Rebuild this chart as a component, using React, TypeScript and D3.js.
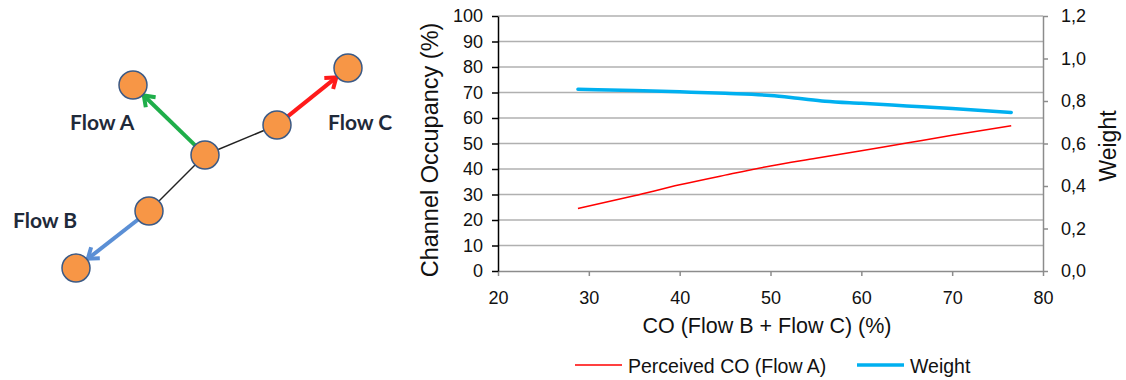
import React, { useEffect, useRef } from "react";
import * as d3 from "d3";

// perceived CO of flow A vs. combined CO of flows B + C
const coBC = [28.8, 35, 40, 45, 50, 55, 60, 65, 70, 76.5];
const perceivedCO = [24.5, 29.5, 33.8, 37.6, 41.2, 44.2, 47.2, 50.2, 53.2, 57];

const weightX = [28.8, 35, 40, 45, 50, 53, 56, 60, 65, 70, 76.5];
const weight = [0.855, 0.849, 0.843, 0.836, 0.826, 0.813, 0.799, 0.789, 0.777, 0.765, 0.746];

const leftTicks = [0, 10, 20, 30, 40, 50, 60, 70, 80, 90, 100];
const rightTicks = [0, 0.2, 0.4, 0.6, 0.8, 1.0, 1.2];
const xTicks = [20, 30, 40, 50, 60, 70, 80];

// little topology sketch next to the chart
const nodes = [
  { id: "a", x: 133, y: 85 },
  { id: "c", x: 348, y: 68 },
  { id: "r", x: 277, y: 125 },
  { id: "m", x: 205, y: 155 },
  { id: "l", x: 149, y: 211 },
  { id: "b", x: 76, y: 268 },
];
const links = [
  ["m", "r"],
  ["m", "l"],
];
const flows = [
  { name: "Flow A", from: "m", to: "a", color: "#1fae4a", lx: 70, ly: 130 },
  { name: "Flow B", from: "l", to: "b", color: "#5b8fd5", lx: 13, ly: 228 },
  { name: "Flow C", from: "r", to: "c", color: "#ff1a1a", lx: 328, ly: 130 },
];

const FONT = "'Liberation Sans', Arial, sans-serif";

const App = () => {
  const ref = useRef<SVGSVGElement>(null);

  useEffect(() => {
    const svg = d3.select(ref.current);
    svg.selectAll("*").remove();

    const left = 498;
    const right = 1043;
    const top = 16;
    const bottom = 271;

    const x = d3.scaleLinear().domain([20, 80]).range([left, right]);
    const y = d3.scaleLinear().domain([0, 100]).range([bottom, top]);
    const y2 = d3.scaleLinear().domain([0, 1.2]).range([bottom, top]);

    // ---- diagram ----
    const byId = new Map(nodes.map((n) => [n.id, n]));
    const diag = svg.append("g");

    diag
      .selectAll("line.link")
      .data(links)
      .join("line")
      .attr("x1", (d) => byId.get(d[0])!.x)
      .attr("y1", (d) => byId.get(d[0])!.y)
      .attr("x2", (d) => byId.get(d[1])!.x)
      .attr("y2", (d) => byId.get(d[1])!.y)
      .attr("stroke", "#222")
      .attr("stroke-width", 1.5);

    const r = 14;
    flows.forEach((f) => {
      const a = byId.get(f.from)!;
      const b = byId.get(f.to)!;
      const dx = b.x - a.x;
      const dy = b.y - a.y;
      const len = Math.hypot(dx, dy);
      const ux = dx / len;
      const uy = dy / len;
      const sx = a.x + ux * (r - 1);
      const sy = a.y + uy * (r - 1);
      const ex = b.x - ux * (r + 1);
      const ey = b.y - uy * (r + 1);
      diag
        .append("line")
        .attr("x1", sx)
        .attr("y1", sy)
        .attr("x2", ex)
        .attr("y2", ey)
        .attr("stroke", f.color)
        .attr("stroke-width", 4);
      // open arrowhead
      const h = 12;
      const ang = Math.PI / 5;
      const base = Math.atan2(-uy, -ux);
      const p1 = [ex + h * Math.cos(base + ang), ey + h * Math.sin(base + ang)];
      const p2 = [ex + h * Math.cos(base - ang), ey + h * Math.sin(base - ang)];
      diag
        .append("path")
        .attr("d", `M${p1[0]},${p1[1]}L${ex},${ey}L${p2[0]},${p2[1]}`)
        .attr("fill", "none")
        .attr("stroke", f.color)
        .attr("stroke-width", 4)
        .attr("stroke-linejoin", "miter");
      diag
        .append("text")
        .attr("x", f.lx)
        .attr("y", f.ly)
        .attr("font-family", "Lato, 'Open Sans', sans-serif")
        .attr("font-weight", "bold")
        .attr("font-size", 21)
        .attr("fill", "#1f2a3a")
        .text(f.name);
    });

    diag
      .selectAll("circle")
      .data(nodes)
      .join("circle")
      .attr("cx", (d) => d.x)
      .attr("cy", (d) => d.y)
      .attr("r", r)
      .attr("fill", "#f79646")
      .attr("stroke", "#3b5a86")
      .attr("stroke-width", 1.5);

    // ---- chart ----
    const g = svg.append("g").attr("font-family", FONT);

    // gridlines
    g.append("g")
      .selectAll("line")
      .data(leftTicks.slice(1))
      .join("line")
      .attr("x1", left)
      .attr("x2", right)
      .attr("y1", (d) => y(d))
      .attr("y2", (d) => y(d))
      .attr("stroke", "#b0b0b0")
      .attr("stroke-width", 1.5);

    const styleAxis = (sel, color) => {
      sel.attr("font-family", FONT).attr("font-size", 18);
      sel.selectAll("text").attr("fill", "#111");
      sel.selectAll("line").attr("stroke", color).attr("stroke-width", 1.5);
      sel.select(".domain").attr("stroke", color).attr("stroke-width", 1.5);
    };

    // bottom axis
    g.append("g")
      .attr("transform", `translate(0,${bottom})`)
      .call(d3.axisBottom(x).tickValues(xTicks).tickSize(5).tickSizeOuter(0).tickPadding(15))
      .call((s) => styleAxis(s, "#8c8c8c"));

    // right axis
    g.append("g")
      .attr("transform", `translate(${right},0)`)
      .call(
        d3
          .axisRight(y2)
          .tickValues(rightTicks)
          .tickSize(5)
          .tickSizeOuter(0)
          .tickPadding(13)
          .tickFormat((d) => d3.format(".1f")(d).replace(".", ","))
      )
      .call((s) => styleAxis(s, "#8c8c8c"));

    // left axis
    g.append("g")
      .attr("transform", `translate(${left},0)`)
      .call(d3.axisLeft(y).tickValues(leftTicks).tickSize(6).tickSizeOuter(0).tickPadding(9))
      .call((s) => styleAxis(s, "#000"));

    // series
    const redLine = d3
      .line<number>()
      .x((d, i) => x(coBC[i]))
      .y((d) => y(d))
      .curve(d3.curveMonotoneX);
    g.append("path")
      .attr("d", redLine(perceivedCO))
      .attr("fill", "none")
      .attr("stroke", "#ff0000")
      .attr("stroke-width", 1.5);

    const blueLine = d3
      .line<number>()
      .x((d, i) => x(weightX[i]))
      .y((d) => y2(d))
      .curve(d3.curveMonotoneX);
    g.append("path")
      .attr("d", blueLine(weight))
      .attr("fill", "none")
      .attr("stroke", "#00b0f0")
      .attr("stroke-width", 3.5)
      .attr("stroke-linecap", "round");

    // axis titles
    g.append("text")
      .attr("transform", `translate(438,150) rotate(-90)`)
      .attr("text-anchor", "middle")
      .attr("font-size", 23.5)
      .attr("fill", "#111")
      .text("Channel Occupancy (%)");

    g.append("text")
      .attr("transform", `translate(1116,146) rotate(-90)`)
      .attr("text-anchor", "middle")
      .attr("font-size", 23)
      .attr("fill", "#111")
      .text("Weight");

    g.append("text")
      .attr("x", 767)
      .attr("y", 333)
      .attr("text-anchor", "middle")
      .attr("font-size", 21.5)
      .attr("fill", "#111")
      .text("CO (Flow B + Flow C) (%)");

    // legend
    const legend = [
      { label: "Perceived CO (Flow A)", color: "#ff0000", w: 1.5, x0: 575 },
      { label: "Weight", color: "#00b0f0", w: 3.5, x0: 857 },
    ];
    const lg = g.append("g");
    legend.forEach((l) => {
      lg.append("line")
        .attr("x1", l.x0)
        .attr("x2", l.x0 + 47)
        .attr("y1", 365)
        .attr("y2", 365)
        .attr("stroke", l.color)
        .attr("stroke-width", l.w);
      lg.append("text")
        .attr("x", l.x0 + 53)
        .attr("y", 373)
        .attr("font-size", 19.5)
        .attr("fill", "#111")
        .text(l.label);
    });
  }, []);

  return (
    <svg
      ref={ref}
      width={1126}
      height={380}
      style={{ position: "absolute", left: 0, top: 0, background: "#fff" }}
    />
  );
};

export default App;
